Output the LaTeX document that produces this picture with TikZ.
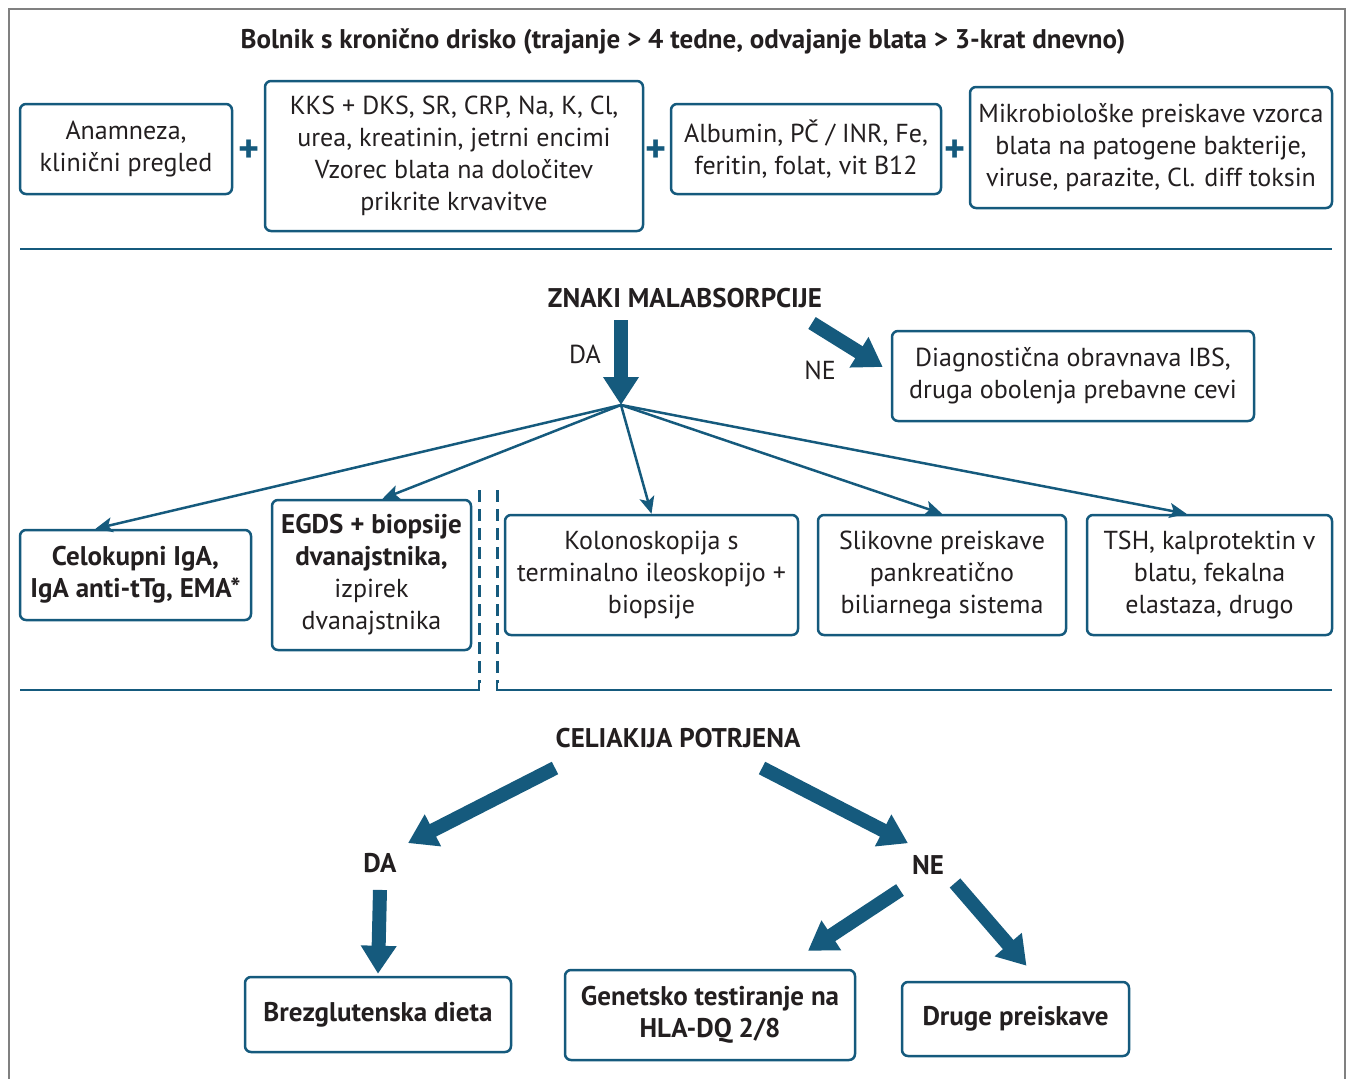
\documentclass[tikz,border=0pt]{standalone}
\usepackage{fontspec}
\setmainfont{PT Sans}
\usetikzlibrary{arrows.meta,calc}
\definecolor{Blau}{RGB}{21,90,125}
\definecolor{Ink}{RGB}{35,31,32}
\newcommand{\TxtSize}{\fontsize{26}{32}\selectfont}
\newcommand{\BoldSize}{\fontsize{27}{32}\selectfont\bfseries}
\tikzset{Box/.style={
    inner sep=0pt,
    draw=Blau,
    line width=2.5pt,
    rounded corners=6pt,
    fill=white,
    align=center,
    text=Ink,
    font=\TxtSize,
    }
}

\begin{document}
\begin{tikzpicture}[x=1pt, y=-1pt,
    Head/.style={text=Ink, font=\BoldSize, inner sep=0pt},
    Lbl/.style={text=Ink, font=\TxtSize, inner sep=0pt},
    Plus/.style={text=Blau, font=\fontsize{40}{40}\selectfont\bfseries, inner sep=0pt},
    Rule/.style={draw=Blau, line width=2.5pt},
    Link/.style={draw=Blau, line width=2.5pt, -{Stealth[length=17pt,width=15pt,inset=4pt]}},
    BigArrow/.style={draw=Blau, line width=14pt, -{Triangle[width=34pt,length=28pt]}},
]
\useasboundingbox (0,0) rectangle (1353,1079);
\draw[gray, line width=1.5pt] (9,9) rectangle (1345,1100);

% zacetek
\node[Head] (bolnik) at (683,42) {Bolnik s kronično drisko (trajanje > 4 tedne, odvajanje blata > 3-krat dnevno)};
\node[Box, minimum width=212pt, minimum height=90pt] (anamneza) at (126,149) {Anamneza,\\klinični pregled};
\node[Box, minimum width=378pt, minimum height=150pt] (kks) at (454,156) {KKS + DKS, SR, CRP, Na, K, Cl,\\urea, kreatinin, jetrni encimi\\Vzorec blata na določitev\\prikrite krvavitve};
\node[Box, minimum width=270pt, minimum height=90pt] (albumin) at (806,149) {Albumin, PČ / INR, Fe,\\feritin, folat, vit B12};
\node[Box, minimum width=362pt, minimum height=121pt] (mikro) at (1151,147.5) {Mikrobiološke preiskave vzorca\\blata na patogene bakterije,\\viruse, parazite, Cl. diff toksin};
\node[Plus] (p1) at (249,151) {+};
\node[Plus] (p2) at (656,151) {+};
\node[Plus] (p3) at (955,151) {+};
\draw[Rule] (20,249) -- (1332,249);

% malabsorpcija
\node[Head] (znaki) at (685,298) {ZNAKI MALABSORPCIJE};
\coordinate (fan) at (621,405);
\coordinate (ne1) at (812,323);
\node[Box, minimum width=362pt, minimum height=90pt] (ibs) at (1073,376) {Diagnostična obravnava IBS,\\druga obolenja prebavne cevi};
\draw[BigArrow] ($(znaki.south -| fan)+(0,12)$) -- (fan);
\draw[BigArrow] (ne1) -- ($(ibs.west)+(-8,-9)$);
\node[Lbl] (da1) at (585,354) {DA};
\node[Lbl] (nelbl) at (820,370) {NE};

\node[Box, font=\BoldSize, minimum width=231pt, minimum height=90pt] (iga) at (135.5,575) {Celokupni IgA,\\IgA anti-tTg, EMA*};
\node[Box, minimum width=199pt, minimum height=150pt] (egds) at (371.5,575) {{\BoldSize EGDS + biopsije}\\{\BoldSize dvanajstnika,}\\izpirek\\dvanajstnika};
\node[Box, minimum width=293pt, minimum height=120pt] (kolono) at (651.5,575) {Kolonoskopija s\\terminalno ileoskopijo +\\biopsije};
\node[Box, minimum width=248pt, minimum height=120pt] (slikovne) at (942,575) {Slikovne preiskave\\pankreatično\\biliarnega sistema};
\node[Box, minimum width=245pt, minimum height=120pt] (tsh) at (1209.5,575) {TSH, kalprotektin v\\blatu, fekalna\\elastaza, drugo};
\draw[Link] (fan) -- ($(iga.north)+(-40,0)$);
\draw[Link] (fan) -- ($(egds.north)+(11,0)$);
\draw[Link] (fan) -- (kolono.north);
\draw[Link] (fan) -- (slikovne.north);
\draw[Link] (fan) -- ($(tsh.north)+(-23,0)$);

\draw[Blau, line width=3pt, dash pattern=on 12pt off 7pt] (479,490) -- (479,683);
\draw[Blau, line width=3pt, dash pattern=on 12pt off 7pt] (497,490) -- (497,683);
\draw[Rule] (20,690) -- (479,690) -- (479,680);
\draw[Rule] (497,680) -- (497,690) -- (1332,690);

% celiakija
\node[Head] (celiakija) at (678,738) {CELIAKIJA POTRJENA};
\node[Head] (da2) at (380,863) {DA};
\node[Head] (ne2) at (928,865) {NE};
\coordinate (c1) at (555,768);
\coordinate (c2) at (762,768);
\draw[BigArrow] (c1) -- ($(da2.north)+(28,-10)$);
\draw[BigArrow] (c2) -- ($(ne2.north)+(-20,-12)$);

\node[Box, font=\BoldSize, minimum width=266pt, minimum height=75pt] (dieta) at (378,1014.5) {Brezglutenska dieta};
\node[Box, font=\BoldSize, minimum width=290pt, minimum height=90pt] (hla) at (710,1015) {Genetsko testiranje na\\HLA-DQ 2/8};
\node[Box, font=\BoldSize, minimum width=227pt, minimum height=74pt] (druge) at (1015.5,1019) {Druge preiskave};
\coordinate (n1) at (900,890);
\coordinate (n2) at (955,883);
\draw[BigArrow] ($(da2.south)+(0,17)$) -- ($(dieta.north)+(0,-2)$);
\draw[BigArrow] (n1) -- ($(hla.north)+(98,-18)$);
\draw[BigArrow] (n2) -- ($(druge.north)+(11,-15)$);
\end{tikzpicture}
\end{document}
